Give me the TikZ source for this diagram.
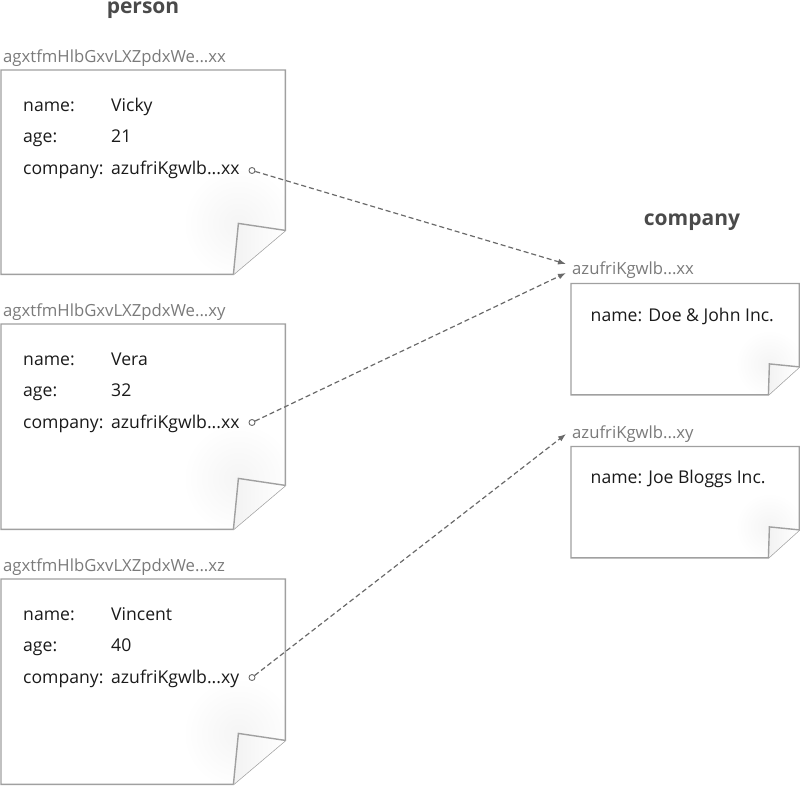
\documentclass[tikz,border=0pt]{standalone}
\usepackage{fontspec}
\setmainfont{Open Sans}
\usetikzlibrary{arrows.meta}
\definecolor{boxc}{HTML}{A0A0A0}
\definecolor{txt}{HTML}{1A1A1A}
\definecolor{lbl}{HTML}{7A7A7A}
\definecolor{ttl}{HTML}{4A4A4A}
\definecolor{arr}{HTML}{6A6A6A}
\tikzset{
  docbox/.style={draw=none, inner sep=0pt, anchor=north west},
  boxline/.style={draw=boxc, line width=1.4pt, line join=miter},
  body/.style={anchor=base west, inner sep=0pt, text=txt, font=\fontsize{17.6}{21}\selectfont},
  idlabel/.style={anchor=base west, inner sep=0pt, text=lbl, font=\fontsize{16.7}{20}\selectfont},
  title/.style={anchor=base, inner sep=0pt, text=ttl, font=\fontsize{21}{25}\selectfont\bfseries},
  port/.style={circle, draw=arr, fill=white, line width=0.9pt, minimum size=6pt, inner sep=0pt},
  link/.style={draw=arr, line width=1.2pt, dash pattern=on 5pt off 3pt, -{Latex[length=8pt,width=6pt]}}
}
% #1 node, #2 bottom cut, #3 right cut, #4 flap x, #5 flap y
\newcommand\dogear[5]{%
  \begin{scope}
    \clip (#1.north west) -- (#1.north east) -- ([yshift=#3pt]#1.south east) -- ([xshift=-#2pt]#1.south east) -- (#1.south west) -- cycle;
    \fill[white] (#1.north west) rectangle (#1.south east);
    \shade[inner color=black!4, outer color=white] ([xshift=-#4pt,yshift=#5pt]#1.south east) circle (1.1*#5pt);
  \end{scope}
  \path[boxline] (#1.north west) -- (#1.north east) -- ([yshift=#3pt]#1.south east) -- ([xshift=-#2pt]#1.south east) -- (#1.south west) -- cycle;
  \shade[left color=black!5, right color=white] ([yshift=#3pt]#1.south east) -- ([xshift=-#4pt,yshift=#5pt]#1.south east) -- ([xshift=-#2pt]#1.south east) -- cycle;
  \path[boxline] ([yshift=#3pt]#1.south east) -- ([xshift=-#4pt,yshift=#5pt]#1.south east) -- ([xshift=-#2pt]#1.south east);
}
\begin{document}
\begin{tikzpicture}[x=1pt,y=-1pt]
\useasboundingbox (0,0) rectangle (800,785);

% titles
\node[title] (tperson) at (143,13) {person};
\node[title] (tcompany) at (692,225) {company};

% person boxes
\node[docbox, minimum width=284pt, minimum height=204pt] (p1) at (1,70) {};
\node[docbox, minimum width=284pt, minimum height=205pt] (p2) at (1,324) {};
\node[docbox, minimum width=284pt, minimum height=205pt] (p3) at (1,579) {};
\dogear{p1}{52}{44}{47}{51}
\dogear{p2}{52}{44}{47}{51}
\dogear{p3}{52}{44}{47}{51}

\node[idlabel] (l1) at (3,62) {agxtfmHlbGxvLXZpdxWe...xx};
\node[idlabel] (l2) at (3,316) {agxtfmHlbGxvLXZpdxWe...xy};
\node[idlabel] (l3) at (3,571) {agxtfmHlbGxvLXZpdxWe...xz};

\node[body] (n1) at (23,111) {name:};
\node[body] (v1) at (111,111) {Vicky};
\node[body] (a1) at (23,142.5) {age:};
\node[body] (av1) at (111,142.5) {21};
\node[body] (c1) at (23,174) {company:};
\node[body] (cv1) at (111,174) {azufriKgwlb...xx};

\node[body] (n2) at (23,365) {name:};
\node[body] (v2) at (111,365) {Vera};
\node[body] (a2) at (23,396.5) {age:};
\node[body] (av2) at (111,396.5) {32};
\node[body] (c2) at (23,428) {company:};
\node[body] (cv2) at (111,428) {azufriKgwlb...xx};

\node[body] (n3) at (23,620) {name:};
\node[body] (v3) at (111,620) {Vincent};
\node[body] (a3) at (23,651.5) {age:};
\node[body] (av3) at (111,651.5) {40};
\node[body] (c3) at (23,683) {company:};
\node[body] (cv3) at (111,683) {azufriKgwlb...xy};

% company boxes
\node[docbox, minimum width=228pt, minimum height=111pt] (k1) at (571,283.5) {};
\node[docbox, minimum width=228pt, minimum height=111pt] (k2) at (571,446.5) {};
\dogear{k1}{31}{28}{30}{31}
\dogear{k2}{31}{28}{30}{31}

\node[idlabel] (kl1) at (572,274) {azufriKgwlb...xx};
\node[idlabel] (kl2) at (572,438) {azufriKgwlb...xy};
\node[body] (kn1) at (590.5,321.5) {name: Doe \& John Inc.};
\node[body] (kn2) at (590.5,483.5) {name: Joe Bloggs Inc.};

% ports and links
\node[port] (o1) at (252,170.5) {};
\node[port] (o2) at (252,422.5) {};
\node[port] (o3) at (252,677.5) {};
\coordinate (t1) at (566,264);
\coordinate (t2) at (566,273);
\coordinate (t3) at (566,434);
\draw[link] (o1) -- (t1);
\draw[link] (o2) -- (t2);
\draw[link] (o3) -- (t3);
\end{tikzpicture}
\end{document}
